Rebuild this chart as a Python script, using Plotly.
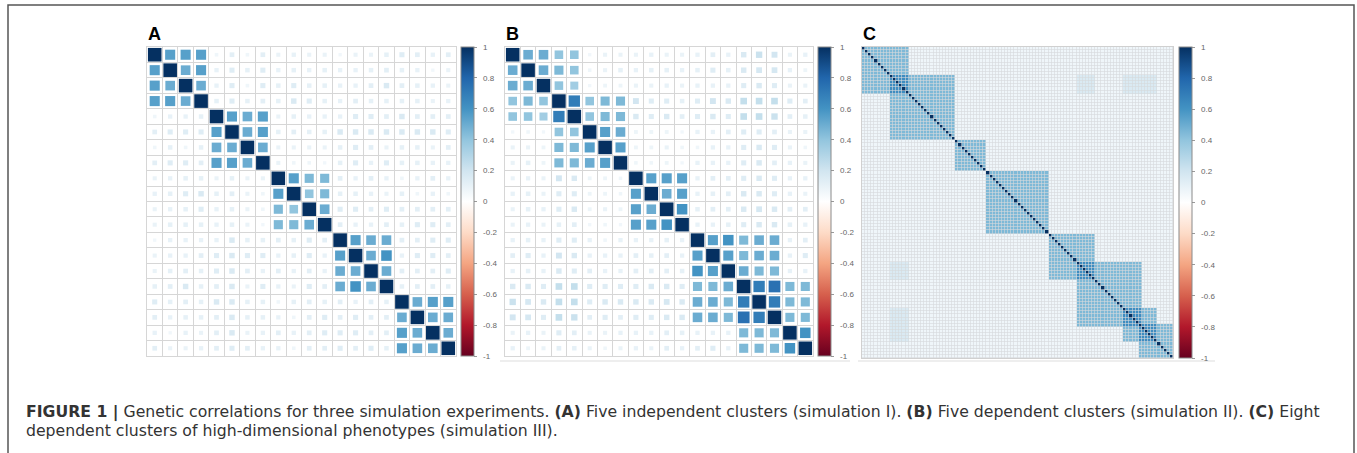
import numpy as np
import plotly.graph_objects as go

W, H = 1357, 453

# ---------------- data ----------------
# Panel A: upper-triangle genetic correlations, row i lists columns i+1..19
A_upper = [
    [.55, .55, .55, .07, .12, .07, .12, .09, .10, .09, .09, .06, .09, .09, .11, .14, .12, .10, .12],
    [.50, .55, .10, .14, .11, .14, .10, .11, .10, .11, .10, .10, .11, .12, .11, .10, .06, .09],
    [.50, .10, .14, .07, .14, .11, .14, .11, .11, .10, .10, .12, .16, .12, .11, .10, .09],
    [.11, .14, .11, .12, .11, .16, .14, .11, .10, .12, .11, .11, .11, .11, .09, .10],
    [.55, .50, .55, .09, .11, .10, .10, .10, .14, .14, .12, .16, .12, .12, .12],
    [.50, .55, .11, .12, .11, .11, .16, .16, .16, .16, .16, .16, .16, .14],
    [.50, .09, .09, .09, .09, .11, .14, .12, .09, .11, .11, .09, .12],
    [.09, .07, .07, .06, .11, .14, .10, .14, .11, .11, .10, .10],
    [.55, .45, .45, .12, .10, .12, .10, .07, .10, .12, .10],
    [.40, .45, .11, .11, .10, .09, .11, .07, .10, .07],
    [.50, .14, .14, .12, .14, .12, .12, .12, .12],
    [.12, .10, .10, .12, .11, .14, .14, .12],
    [.55, .50, .50, .12, .12, .14, .14],
    [.50, .60, .10, .14, .14, .12],
    [.50, .12, .12, .12, .14],
    [.11, .12, .12, .11],
    [.50, .55, .55],
    [.50, .50],
    [.50],
]

# Panel B: upper-triangle genetic correlations
B_upper = [
    [.50, .50, .40, .40, .06, .09, .09, .09, .10, .09, .09, .10, .12, .10, .16, .22, .19, .09, .10],
    [.50, .45, .40, .07, .09, .11, .10, .11, .11, .10, .11, .14, .11, .16, .18, .18, .10, .08],
    [.40, .35, .06, .08, .08, .09, .09, .10, .09, .10, .10, .10, .14, .16, .14, .09, .09],
    [.70, .40, .45, .45, .19, .14, .14, .11, .14, .19, .16, .24, .24, .24, .14, .12],
    [.40, .45, .45, .16, .14, .16, .12, .14, .16, .14, .24, .24, .22, .12, .11],
    [.55, .50, .08, .08, .08, .06, .10, .10, .12, .14, .14, .12, .09, .09],
    [.55, .08, .08, .09, .07, .07, .10, .10, .14, .16, .14, .09, .07],
    [.07, .07, .08, .06, .10, .10, .10, .14, .16, .12, .10, .09],
    [.55, .55, .55, .10, .12, .12, .14, .16, .14, .10, .10],
    [.50, .55, .10, .11, .12, .16, .16, .14, .10, .09],
    [.60, .11, .12, .12, .16, .18, .16, .12, .12],
    [.10, .10, .11, .14, .16, .16, .11, .10],
    [.55, .60, .45, .50, .50, .10, .12],
    [.55, .45, .50, .50, .10, .14],
    [.50, .45, .45, .10, .10],
    [.70, .75, .45, .45],
    [.70, .45, .45],
    [.45, .45],
    [.60],
]

# Panel C: 100 phenotypes in 8 overlapping clusters
C_n = 100
C_cluster_start = [0, 9, 30, 40, 60, 69, 84, 89]
C_cluster_end = [15, 30, 40, 60, 75, 90, 95, 100]
C_within = 0.45
C_overlap = 0.63
C_background = 0.07
C_patch_rows = [(9, 15), (9, 15)]
C_patch_cols = [(69, 75), (84, 95)]
C_patch_value = 0.16

tick_vals = [1, 0.8, 0.6, 0.4, 0.2, 0, -0.2, -0.4, -0.6, -0.8, -1]
tick_text = ["1", "0.8", "0.6", "0.4", "0.2", "0", "-0.2", "-0.4", "-0.6", "-0.8", "-1"]

caption_1 = ("<b>FIGURE 1 |</b> Genetic correlations for three simulation experiments. "
             "<b>(A)</b> Five independent clusters (simulation I). <b>(B)</b> Five dependent "
             "clusters (simulation II). <b>(C)</b> Eight")
caption_2 = "dependent clusters of high-dimensional phenotypes (simulation III)."

RdBu = ["#67001F", "#B2182B", "#D6604D", "#F4A582", "#FDDBC7", "#FFFFFF",
        "#D1E5F0", "#92C5DE", "#4393C3", "#2166AC", "#053061"]
colorscale = [[i / 10, c] for i, c in enumerate(RdBu)]


def full(upper):
    n = len(upper) + 1
    M = np.eye(n)
    for i, row in enumerate(upper):
        for k, v in enumerate(row):
            j = i + 1 + k
            M[i, j] = M[j, i] = v
    return M


A = full(A_upper)
B = full(B_upper)

Cm = np.full((C_n, C_n), C_background)
count = np.zeros((C_n, C_n), dtype=int)
for s, e in zip(C_cluster_start, C_cluster_end):
    count[s:e, s:e] += 1
Cm[count == 1] = C_within
Cm[count >= 2] = C_overlap
for (r0, r1), (c0, c1) in zip(C_patch_rows, C_patch_cols):
    Cm[r0:r1, c0:c1] = np.maximum(Cm[r0:r1, c0:c1], C_patch_value)
    Cm[c0:c1, r0:r1] = np.maximum(Cm[c0:c1, r0:r1], C_patch_value)
np.fill_diagonal(Cm, 1.0)

# ---------------- layout geometry (pixels) ----------------
panels = {
    "A": dict(x0=147, x1=456, y0=47, y1=356, cb=460.5),
    "B": dict(x0=505, x1=813, y0=47, y1=356, cb=818),
    "C": dict(x0=862, x1=1173, y0=47, y1=358, cb=1179),
}


def px(x):
    return x / W


def py(y):
    return 1 - y / H


NB = "\u00a0"


def cbar(p):
    return dict(x=px(p["cb"]), xanchor="left", xpad=0, ypad=0,
                y=py((p["y0"] + p["y1"]) / 2), yanchor="middle",
                len=p["y1"] - p["y0"], lenmode="pixels",
                thickness=13, thicknessmode="pixels",
                outlinewidth=1, outlinecolor="#8a8a8a",
                ticks="outside", ticklen=3, tickwidth=1, tickcolor="#999",
                tickvals=tick_vals, ticktext=[NB * 2 + t for t in tick_text],
                tickfont=dict(size=8, color="#666", family="Liberation Sans"))


fig = go.Figure()


def square_panel(M, p, xa, ya):
    n = M.shape[0]
    ii, jj = np.meshgrid(np.arange(n), np.arange(n), indexing="ij")
    vals = M.ravel()
    cell = (p["x1"] - p["x0"]) / n
    sizes = np.sqrt(np.abs(vals)) * cell * 0.88
    fig.add_trace(go.Scatter(
        x=(jj.ravel() + 1), y=(ii.ravel() + 1), mode="markers",
        xaxis=xa, yaxis=ya, hoverinfo="skip",
        marker=dict(symbol="square", size=sizes, color=vals, opacity=1,
                    colorscale=colorscale, cmin=-1, cmax=1,
                    line=dict(width=0),
                    showscale=True, colorbar=cbar(p)),
        showlegend=False))


square_panel(A, panels["A"], "x", "y")
square_panel(B, panels["B"], "x2", "y2")

pc = panels["C"]
fig.add_trace(go.Heatmap(
    z=Cm, x=np.arange(1, C_n + 1), y=np.arange(1, C_n + 1),
    xaxis="x3", yaxis="y3", colorscale=colorscale, zmin=-1, zmax=1,
    xgap=0.6, ygap=0.6, hoverinfo="skip", colorbar=cbar(pc)))


def axes(p, n, suffix):
    grid = dict(showgrid=True, gridcolor="#d6d6d6", gridwidth=1,
                showticklabels=False, ticks="", zeroline=False,
                showline=True, linecolor="#d6d6d6", mirror=True,
                tickvals=list(np.arange(0.5, n + 1, 1.0)))
    xa = dict(domain=[px(p["x0"]), px(p["x1"])], range=[0.5, n + 0.5],
              anchor="y" + suffix, **grid)
    ya = dict(domain=[py(p["y1"]), py(p["y0"])], range=[n + 0.5, 0.5],
              anchor="x" + suffix, **grid)
    return xa, ya


xa1, ya1 = axes(panels["A"], 20, "")
xa2, ya2 = axes(panels["B"], 20, "2")
xa3 = dict(domain=[px(pc["x0"]), px(pc["x1"])], range=[0.5, C_n + 0.5], anchor="y3",
           showgrid=False, showticklabels=False, ticks="", zeroline=False,
           showline=True, linecolor="#d0d0d0", mirror=True)
ya3 = dict(domain=[py(pc["y1"]), py(pc["y0"])], range=[C_n + 0.5, 0.5], anchor="x3",
           showgrid=False, showticklabels=False, ticks="", zeroline=False,
           showline=True, linecolor="#d0d0d0", mirror=True)

shapes = [
    # grey lattice behind heat map C
    dict(type="rect", xref="x3", yref="y3", x0=0.5, x1=C_n + 0.5, y0=0.5, y1=C_n + 0.5,
         fillcolor="#d6d9dc", line=dict(width=0), layer="below"),
    # outer frame
    dict(type="rect", xref="paper", yref="paper", x0=px(8), x1=px(1354), y0=-0.2, y1=py(5),
         line=dict(color="#555", width=1.5), fillcolor="rgba(0,0,0,0)"),
    # faint image edges under panels B and C
    dict(type="line", xref="paper", yref="paper", x0=px(500), x1=px(850), y0=py(361), y1=py(361),
         line=dict(color="#dddddd", width=1)),
    dict(type="line", xref="paper", yref="paper", x0=px(858), x1=px(1215), y0=py(361), y1=py(361),
         line=dict(color="#dddddd", width=1)),
]

annotations = []
for letter, p in panels.items():
    annotations.append(dict(text="<b>%s</b>" % letter, xref="paper", yref="paper",
                            x=px(p["x0"] - 1), y=py(33.5), xanchor="left", yanchor="middle",
                            showarrow=False,
                            font=dict(size=18, color="#000", family="Liberation Sans")))
annotations.append(dict(text=caption_1, xref="paper", yref="paper", x=px(24), y=py(412),
                        xanchor="left", yanchor="middle", showarrow=False,
                        font=dict(size=15.7, color="#333", family="DejaVu Sans")))
annotations.append(dict(text=caption_2, xref="paper", yref="paper", x=px(24), y=py(430),
                        xanchor="left", yanchor="middle", showarrow=False,
                        font=dict(size=15.7, color="#333", family="DejaVu Sans")))

fig.update_layout(
    width=W, height=H, margin=dict(l=0, r=0, t=0, b=0),
    paper_bgcolor="white", plot_bgcolor="white",
    xaxis=xa1, yaxis=ya1, xaxis2=xa2, yaxis2=ya2, xaxis3=xa3, yaxis3=ya3,
    shapes=shapes, annotations=annotations, showlegend=False,
)

fig.write_html("out.html")
